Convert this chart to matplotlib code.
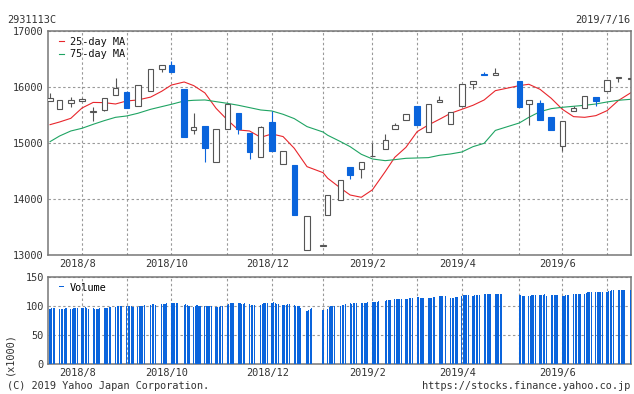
import numpy as np
import pandas as pd
import matplotlib
matplotlib.use('Agg')
import matplotlib.pyplot as plt
import matplotlib.dates as mdates
import matplotlib.transforms as mtransforms

# weekly candles (first trading day of each week)
weeks = ['2018-07-17', '2018-07-23', '2018-07-30', '2018-08-06', '2018-08-13', '2018-08-20',
         '2018-08-27', '2018-09-03', '2018-09-10', '2018-09-18', '2018-09-25', '2018-10-01',
         '2018-10-09', '2018-10-15', '2018-10-22', '2018-10-29', '2018-11-05', '2018-11-12',
         '2018-11-19', '2018-11-26', '2018-12-03', '2018-12-10', '2018-12-17', '2018-12-25',
         '2019-01-04', '2019-01-07', '2019-01-15', '2019-01-21', '2019-01-28', '2019-02-04',
         '2019-02-12', '2019-02-18', '2019-02-25', '2019-03-04', '2019-03-11', '2019-03-18',
         '2019-03-25', '2019-04-01', '2019-04-08', '2019-04-15', '2019-04-22', '2019-05-07',
         '2019-05-13', '2019-05-20', '2019-05-27', '2019-06-03', '2019-06-10', '2019-06-17',
         '2019-06-24', '2019-07-01', '2019-07-08', '2019-07-16']
opens = [15762, 15607, 15714, 15750, 15565, 15589, 15857, 15917, 15661, 15940, 16321, 16405,
         15970, 15232, 15310, 14661, 15250, 15536, 15179, 14750, 15381, 14625, 14613, 13089,
         13170, 13714, 13982, 14577, 14536, 14768, 14893, 15250, 15411, 15667, 15196, 15732,
         15351, 15673, 16054, 16244, 16226, 16113, 15696, 15720, 15464, 14946, 15571, 15625,
         15821, 15929, 16161, 16155]
highs = [15893, 15768, 15833, 15815, 15655, 15804, 16167, 15935, 16036, 16321, 16393, 16464,
         15970, 15542, 15310, 15250, 15696, 15536, 15179, 15304, 15571, 14857, 14613, 13696,
         13185, 14071, 14339, 14577, 14661, 15000, 15167, 15363, 15518, 15667, 15696, 15845,
         15554, 16054, 16107, 16274, 16339, 16113, 15768, 15774, 15464, 15393, 15673, 15839,
         15821, 16137, 16179, 16167]
lows = [15762, 15607, 15643, 15750, 15405, 15571, 15857, 15637, 15661, 15940, 16280, 16280,
        15119, 15173, 14673, 14661, 15250, 15161, 14726, 14750, 14869, 14625, 13726, 13089,
        13170, 13714, 13982, 14369, 14387, 14768, 14893, 15250, 15411, 15327, 15196, 15732,
        15351, 15673, 15964, 16226, 16226, 15655, 15333, 15423, 15232, 14869, 15571, 15625,
        15661, 15929, 16101, 16155]
closes = [15815, 15768, 15768, 15792, 15580, 15804, 15988, 15637, 16036, 16321, 16393, 16280,
          15119, 15292, 14923, 15250, 15696, 15250, 14851, 15286, 14869, 14857, 13726, 13696,
          13185, 14071, 14339, 14440, 14661, 14780, 15054, 15321, 15518, 15327, 15696, 15774,
          15554, 16054, 16107, 16226, 16256, 15655, 15768, 15423, 15232, 15393, 15637, 15839,
          15762, 16137, 16179, 16167]

# moving averages read at the weekly dates
ma25 = [15333, 15381, 15446, 15630, 15730, 15726, 15702, 15756, 15774, 15825, 15930, 16040,
        16095, 16030, 15900, 15625, 15420, 15238, 15220, 15107, 15167, 15120, 14911, 14583,
        14476, 14375, 14200, 14077, 14036, 14170, 14494, 14750, 14929, 15208, 15327, 15429,
        15536, 15607, 15679, 15774, 15940, 16030, 16054, 15964, 15804, 15607, 15476, 15464,
        15494, 15583, 15762, 15905]
ma75 = [15030, 15131, 15220, 15268, 15339, 15405, 15464, 15488, 15536, 15607, 15655, 15696,
        15756, 15768, 15774, 15744, 15714, 15679, 15637, 15595, 15577, 15518, 15441, 15298,
        15202, 15143, 15030, 14940, 14804, 14720, 14690, 14708, 14732, 14738, 14744, 14786,
        14810, 14845, 14940, 15000, 15230, 15363, 15464, 15565, 15619, 15643, 15661, 15679,
        15702, 15738, 15768, 15786]

# daily volume (x1000), grouped by week
volume = [[96, 97, 97, 97], [95, 95, 95, 96, 97], [95, 96, 97, 97, 97], [97, 97, 98, 97, 96],
          [97, 96, 95, 96, 97], [97, 97, 97, 98, 98], [99, 100, 101, 101, 101],
          [101, 101, 101, 100, 99], [99, 100, 100, 101, 102], [103, 104, 104, 103],
          [104, 104, 104, 105], [106, 106, 105, 105, 105], [103, 104, 103, 101],
          [99, 101, 102, 101, 100], [100, 101, 101, 101, 100], [99, 98, 98, 100, 101],
          [102, 104, 105, 105, 106], [105, 105, 104, 104, 105], [104, 103, 102, 103],
          [103, 104, 105, 105, 106], [106, 107, 105, 104, 104], [102, 102, 103, 104, 104],
          [102, 101, 100, 100, 97], [92, 93, 95, 97], [94], [96, 98, 100, 100, 101],
          [101, 102, 102, 104], [105, 104, 105, 105, 106], [105, 105, 106, 106, 107],
          [107, 108, 108, 108, 109], [110, 111, 111, 111], [112, 112, 112, 113, 113],
          [113, 113, 114, 114, 114], [116, 116, 115, 115, 115], [114, 115, 115, 116, 116],
          [117, 118, 118, 118], [114, 115, 115, 116, 116], [117, 119, 119, 120, 120],
          [118, 119, 119, 120, 120], [121, 121, 121, 121, 121], [121, 121, 121, 121, 121],
          [120, 119, 118, 118], [118, 118, 119, 119, 120], [120, 120, 120, 121, 118],
          [119, 119, 119, 119, 119], [117, 118, 119, 120, 120], [122, 122, 122, 122, 122],
          [122, 123, 124, 124, 125], [125, 124, 124, 124, 125], [125, 126, 127, 128, 128],
          [128, 128, 128, 128, 128], [128]]

holidays = ['2018-07-16', '2018-09-17', '2018-09-24', '2018-10-08', '2018-11-23', '2018-12-24',
            '2018-12-31', '2019-01-01', '2019-01-02', '2019-01-03', '2019-01-14', '2019-02-11',
            '2019-03-21', '2019-04-29', '2019-04-30', '2019-05-01', '2019-05-02', '2019-05-03',
            '2019-05-06', '2019-07-15']

grid_dates = ['2018-08-06', '2018-09-03', '2018-10-01', '2018-11-05', '2018-12-03', '2019-01-04',
              '2019-02-04', '2019-03-04', '2019-04-01', '2019-05-07', '2019-06-03', '2019-07-01']
month_labels = ['2018/8', '', '2018/10', '', '2018/12', '', '2019/2', '', '2019/4', '', '2019/6', '']

blue = '#0a64dc'
gray = '#555555'
txt = '#333333'
mono = 'DejaVu Sans Mono'
fs = 7.4

wx = mdates.date2num(pd.to_datetime(weeks).to_pydatetime())
days = pd.bdate_range('2018-07-17', '2019-07-16', freq='C', holidays=holidays)
dx = mdates.date2num(days.to_pydatetime())
vols = [v for wk in volume for v in wk]
n = min(len(dx), len(vols))
gx = mdates.date2num(pd.to_datetime(grid_dates).to_pydatetime())
x0 = mdates.date2num(pd.Timestamp('2018-07-16').to_pydatetime()) - 0.3
x1 = mdates.date2num(pd.Timestamp('2019-07-16').to_pydatetime())

fig = plt.figure(figsize=(6.34, 3.94), dpi=100)
ax = fig.add_axes([48 / 634, 1 - 255.3 / 394, 583 / 634, 224 / 394])
vax = fig.add_axes([48 / 634, 1 - 364.3 / 394, 583 / 634, 87 / 394])

opens = np.array(opens); closes = np.array(closes)
up = closes >= opens
lo = np.minimum(opens, closes)
hgt = np.maximum(np.abs(closes - opens), 8)

ax.plot(wx, ma25, color='#e8262c', lw=0.8, zorder=2, label='25-day MA')
ax.plot(wx, ma75, color='#1fa463', lw=0.8, zorder=2, label='75-day MA')
ax.vlines(wx[up], np.array(lows)[up], np.array(highs)[up], color=gray, lw=0.8, zorder=3)
ax.vlines(wx[~up], np.array(lows)[~up], np.array(highs)[~up], color=blue, lw=0.8, zorder=3)
ax.bar(wx[up], hgt[up], bottom=lo[up], width=3.4, facecolor='white', edgecolor=gray,
       linewidth=0.8, zorder=4)
ax.bar(wx[~up], hgt[~up], bottom=lo[~up], width=3.4, facecolor=blue, edgecolor=blue,
       linewidth=0.8, zorder=4)

vax.bar(dx[:n], vols[:n], width=0.75, color=blue, linewidth=0, zorder=3, label='Volume')

for a, (ylo, yhi, yt) in zip([ax, vax], [(13000, 17000, range(13000, 17001, 1000)),
                                         (0, 150, [0, 50, 100, 150])]):
    a.set_xlim(x0, x1)
    a.set_ylim(ylo, yhi)
    a.set_yticks(list(yt))
    a.set_xticks(gx)
    a.set_xticklabels(month_labels)
    a.grid(True, color='#999999', lw=0.8, linestyle=(0, (2.2, 2.2)), zorder=0)
    a.set_axisbelow(True)
    a.tick_params(length=0, labelsize=fs, labelcolor=txt, pad=3)
    for s in a.spines.values():
        s.set_color('#777777')
        s.set_linewidth(1.1)
    for lab in a.get_xticklabels() + a.get_yticklabels():
        lab.set_family(mono)
    off = mtransforms.ScaledTranslation(-4.5 / 100, 0, fig.dpi_scale_trans)
    for lab in a.get_xticklabels():
        lab.set_transform(lab.get_transform() + off)

leg = ax.legend(loc='upper left', bbox_to_anchor=(0.006, 1.007), frameon=False,
                handlelength=0.55, handletextpad=0.55, labelspacing=0.25, borderpad=0.2,
                prop={'family': mono, 'size': fs})
for t in leg.get_texts():
    t.set_color('#111111')
vleg = vax.legend(loc='upper left', bbox_to_anchor=(0.006, 1.02), frameon=False,
                  handlelength=0.55, handletextpad=0.55, borderpad=0.2,
                  prop={'family': mono, 'size': fs})
for h in vleg.legend_handles:
    h.set_height(1.2)
    h.set_y(2.5)

fig.text(7 / 634, 1 - 20 / 394, '2931113C', family=mono, size=fs, color=txt, va='center')
fig.text(630 / 634, 1 - 20 / 394, '2019/7/16', family=mono, size=fs, color=txt,
         va='center', ha='right')
fig.text(9 / 634, 1 - 354 / 394, '(x1000)', family=mono, size=fs, color=txt,
         va='center', ha='center', rotation=90)
fig.text(7 / 634, 1 - 386 / 394, '(C) 2019 Yahoo Japan Corporation.', family=mono, size=fs,
         color=txt, va='center')
fig.text(630 / 634, 1 - 386 / 394, 'https://stocks.finance.yahoo.co.jp', family=mono, size=fs,
         color=txt, va='center', ha='right')

fig.savefig('out.png', dpi=100)
